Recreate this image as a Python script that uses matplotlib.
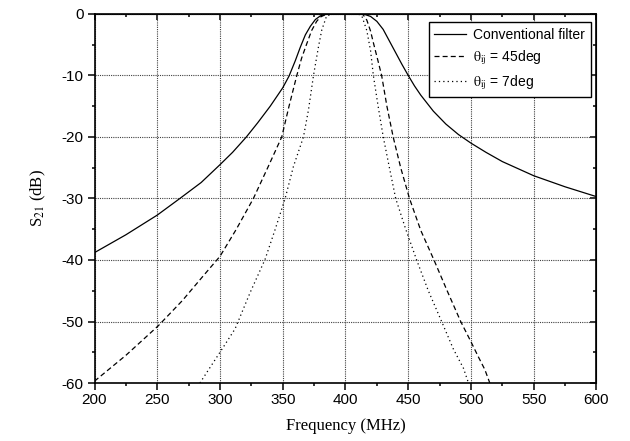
import matplotlib
matplotlib.use("Agg")
import matplotlib.pyplot as plt
from matplotlib.ticker import MultipleLocator

# ---- data ----
conv_f = [200, 225, 250, 268, 285, 300, 310, 321, 330, 340, 350, 355, 360, 364, 368, 372,
          376, 380, 385, 390, 400, 410, 415, 420, 425, 430, 435, 440, 445, 450, 455, 460,
          470, 480, 490, 500, 512, 525, 550, 575, 600]
conv_db = [-38.8, -35.9, -32.7, -30.0, -27.4, -24.5, -22.5, -20.0, -17.7, -15.0, -12.0,
           -10.1, -7.6, -5.4, -3.4, -2.0, -0.9, -0.3, -0.02, 0, 0, 0, -0.05, -0.4, -1.2,
           -2.5, -4.4, -6.3, -8.2, -10.0, -11.7, -13.2, -15.8, -17.9, -19.6, -21.0, -22.5,
           -24.0, -26.3, -28.1, -29.7]

d45_f = [200, 225, 250.8, 270, 287, 300, 313, 326.6, 338, 349.2, 355, 361.2, 365, 369.2,
         373, 377, 380, 384, 390, 400, 410, 414, 417, 420, 422, 425.5, 428.8, 433, 438,
         444, 451, 460, 470.5, 481, 491.8, 500, 506, 511, 515]
d45_db = [-59.7, -55.5, -50.7, -46.6, -42.5, -39.4, -35.0, -30.0, -25.0, -20.0, -15.0,
          -10.0, -7.2, -4.8, -2.7, -1.2, -0.5, -0.1, 0, 0, 0, -0.1, -1.0, -2.8, -4.5, -7.3,
          -10.0, -15.0, -20.0, -25.0, -30.0, -35.2, -40.0, -45.0, -50.0, -53.3, -55.8,
          -57.8, -60.0]

d7_f = [284, 290.7, 300, 312, 324, 335.9, 344, 351.9, 358.5, 366.5, 370.5, 374.5, 378.5,
        381.1, 385, 390, 400, 410, 413, 417, 420, 422.2, 426, 430.1, 435, 440, 448, 456.7,
        466, 476.6, 486, 494, 498]
d7_db = [-60.0, -57.9, -55.0, -51.2, -45.3, -39.9, -35.0, -30.0, -24.8, -20.0, -15.6,
         -10.0, -5.3, -2.6, -0.3, 0, 0, 0, -0.3, -2.7, -6.0, -10.0, -15.0, -20.0, -25.0,
         -30.0, -35.0, -40.0, -45.0, -50.0, -54.5, -57.6, -60.0]

labels = ["Conventional filter", r"$\mathrm{\theta}_{\rm ij}$ = 45deg",
          r"$\mathrm{\theta}_{\rm ij}$ = 7deg"]
x_ticks = [200, 250, 300, 350, 400, 450, 500, 550, 600]
y_ticks = [0, -10, -20, -30, -40, -50, -60]

plt.rcParams["font.family"] = ["Liberation Sans", "DejaVu Sans"]
plt.rcParams["mathtext.fontset"] = "stix"
plt.rcParams["axes.unicode_minus"] = False

fig = plt.figure(figsize=(6.3, 4.41), dpi=100)
ax = fig.add_axes([0.15, 0.1315, 0.7968, 0.8368])

ax.plot(conv_f, conv_db, color="black", lw=0.9, ls="-", label=labels[0])
ax.plot(d45_f, d45_db, color="black", lw=0.9, ls=(0, (4, 2.5)), label=labels[1])
ax.plot(d7_f, d7_db, color="black", lw=0.9, ls=(0, (1, 2.5)), label=labels[2])

ax.set_xlim(200, 600)
ax.set_ylim(-60, 0)
ax.set_xticks(x_ticks)
ax.set_yticks(y_ticks)
ax.xaxis.set_minor_locator(MultipleLocator(25))
ax.yaxis.set_minor_locator(MultipleLocator(5))

ax.grid(True, which="major", color="0.25", ls=(0, (1, 1)), lw=0.8)
ax.set_axisbelow(True)

for s in ax.spines.values():
    s.set_linewidth(1.2)

ax.tick_params(which="major", direction="out", length=5, width=1.1, labelsize=11,
               pad=2, top=False, right=False)
ax.tick_params(which="minor", direction="out", length=2.5, width=1.1, top=False, right=False)
ax.tick_params(axis="y", which="major", pad=3)

secx = ax.secondary_xaxis("top")
secx.set_xticks(x_ticks)
secx.xaxis.set_minor_locator(MultipleLocator(25))
secx.tick_params(which="major", direction="in", length=4, width=1.1, labeltop=False)
secx.tick_params(which="minor", direction="in", length=2, width=1.1)
secx.set_xticklabels([])
secy = ax.secondary_yaxis("right")
secy.set_yticks(y_ticks)
secy.yaxis.set_minor_locator(MultipleLocator(5))
secy.tick_params(which="major", direction="in", length=4, width=1.1, labelright=False)
secy.tick_params(which="minor", direction="in", length=2, width=1.1)
secy.set_yticklabels([])

ax.set_xlabel("Frequency (MHz)", family="Liberation Serif", fontsize=12, labelpad=8)
ax.set_ylabel(r"S$_{\rm 21}$ (dB)", family="Liberation Serif", fontsize=12, labelpad=10)

leg = ax.legend(loc="upper right", bbox_to_anchor=(0.9884, 0.978), borderaxespad=0,
                fontsize=10, frameon=True, fancybox=False, framealpha=1,
                edgecolor="black", handlelength=2.3, labelspacing=0.45,
                borderpad=0.4, handletextpad=0.5)
leg.get_frame().set_linewidth(1.0)

fig.savefig("out.png", dpi=100)
